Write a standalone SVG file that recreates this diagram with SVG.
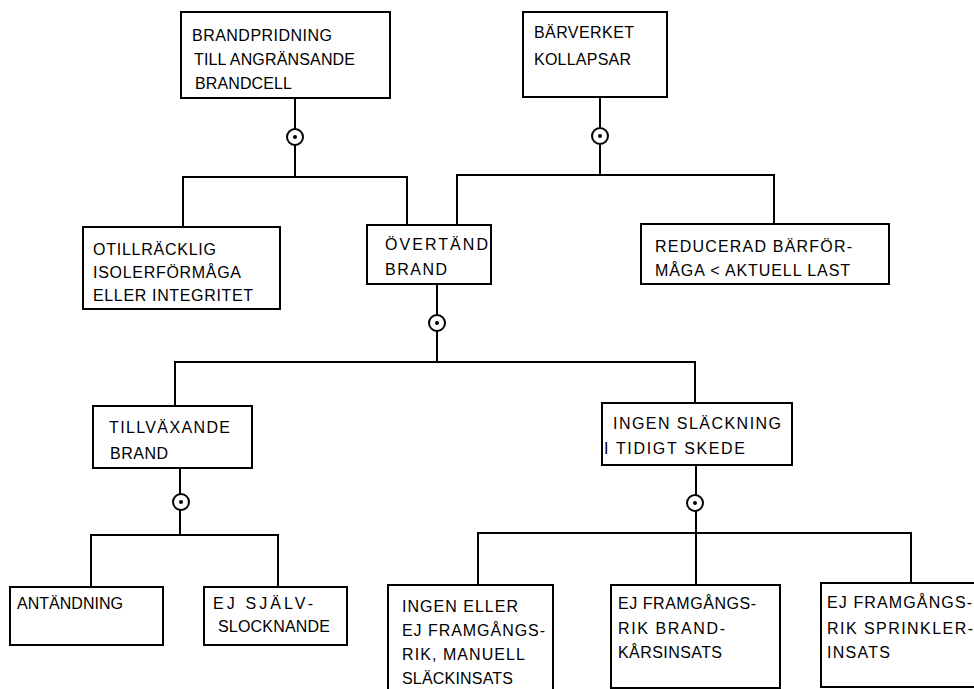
<svg xmlns="http://www.w3.org/2000/svg" width="974" height="689" viewBox="0 0 974 689">
<style>
  .box{fill:#fff;stroke:#000;stroke-width:2}
  .ln{fill:none;stroke:#000;stroke-width:2}
  .gate{fill:#fff;stroke:#000;stroke-width:2}
  .dot{fill:#000}
  text{font-family:"Liberation Sans",Arial,sans-serif;font-size:16px;fill:#000}
</style>
<defs>
  <g id="andgate"><circle class="gate" cx="0" cy="0" r="8"/><circle class="dot" cx="0" cy="0" r="2"/></g>
</defs>
<rect width="974" height="689" fill="#fff"/>
<g id="connectors">
  <path class="ln" d="M295 98V177M183 227V177H407V225"/>
  <path class="ln" d="M600 97V175M457 225V175H774V224"/>
  <path class="ln" d="M437 284V362M175 406V362H695V403"/>
  <path class="ln" d="M180 468V535M91 587V535H278V587"/>
  <path class="ln" d="M696 465V533M478 585V533H911V583M696 533V585"/>
  <use href="#andgate" x="295" y="137"/>
  <use href="#andgate" x="600" y="136"/>
  <use href="#andgate" x="437" y="323"/>
  <use href="#andgate" x="181" y="502"/>
  <use href="#andgate" x="695" y="503"/>
</g>
<g id="n-brandspridning">
  <rect class="box" x="181" y="12" width="209" height="86"/>
  <text x="192" y="41" textLength="140">BRANDPRIDNING</text>
  <text x="194" y="65" textLength="161">TILL ANGRÄNSANDE</text>
  <text x="195" y="89" textLength="97">BRANDCELL</text>
</g>
<g id="n-barverket">
  <rect class="box" x="523" y="12" width="144" height="85"/>
  <text x="534" y="38" textLength="100">BÄRVERKET</text>
  <text x="534" y="65" textLength="97">KOLLAPSAR</text>
</g>
<g id="n-otillracklig">
  <rect class="box" x="83" y="227" width="197" height="82"/>
  <text x="93" y="255" textLength="123">OTILLRÄCKLIG</text>
  <text x="93" y="278" textLength="148">ISOLERFÖRMÅGA</text>
  <text x="93" y="301" textLength="160">ELLER INTEGRITET</text>
</g>
<g id="n-overtand">
  <rect class="box" x="367" y="225" width="124" height="59"/>
  <text x="385" y="250" textLength="103">ÖVERTÄND</text>
  <text x="385" y="275" textLength="62">BRAND</text>
</g>
<g id="n-reducerad">
  <rect class="box" x="641" y="224" width="248" height="60"/>
  <text x="655" y="252" textLength="197">REDUCERAD BÄRFÖR-</text>
  <text x="655" y="276" textLength="195">MÅGA &lt; AKTUELL LAST</text>
</g>
<g id="n-tillvaxande">
  <rect class="box" x="93" y="406" width="159" height="62"/>
  <text x="109" y="433" textLength="121">TILLVÄXANDE</text>
  <text x="110" y="459" textLength="58">BRAND</text>
</g>
<g id="n-ingen-slackning">
  <rect class="box" x="602" y="403" width="190" height="62"/>
  <text x="613" y="429" textLength="168">INGEN SLÄCKNING</text>
  <text x="604" y="454" textLength="141">I TIDIGT SKEDE</text>
</g>
<g id="n-antandning">
  <rect class="box" x="10" y="587" width="153" height="58"/>
  <text x="17" y="609" textLength="106">ANTÄNDNING</text>
</g>
<g id="n-ej-sjalvslocknande">
  <rect class="box" x="204" y="587" width="143" height="58"/>
  <text x="213" y="609" textLength="100">EJ SJÄLV-</text>
  <text x="218" y="632" textLength="112">SLOCKNANDE</text>
</g>
<g id="n-manuell">
  <rect class="box" x="388" y="585" width="165" height="120"/>
  <text x="402" y="612" textLength="116">INGEN ELLER</text>
  <text x="402" y="636" textLength="143">EJ FRAMGÅNGS-</text>
  <text x="402" y="660" textLength="123">RIK, MANUELL</text>
  <text x="402" y="684" textLength="111">SLÄCKINSATS</text>
</g>
<g id="n-brandkar">
  <rect class="box" x="611" y="585" width="169" height="103"/>
  <text x="618" y="609" textLength="138">EJ FRAMGÅNGS-</text>
  <text x="618" y="634" textLength="107">RIK BRAND-</text>
  <text x="618" y="658" textLength="104">KÅRSINSATS</text>
</g>
<g id="n-sprinkler">
  <rect class="box" x="821" y="583" width="170" height="104"/>
  <text x="827" y="608" textLength="145">EJ FRAMGÅNGS-</text>
  <text x="827" y="634" textLength="146">RIK SPRINKLER-</text>
  <text x="827" y="658" textLength="63">INSATS</text>
</g>
</svg>
